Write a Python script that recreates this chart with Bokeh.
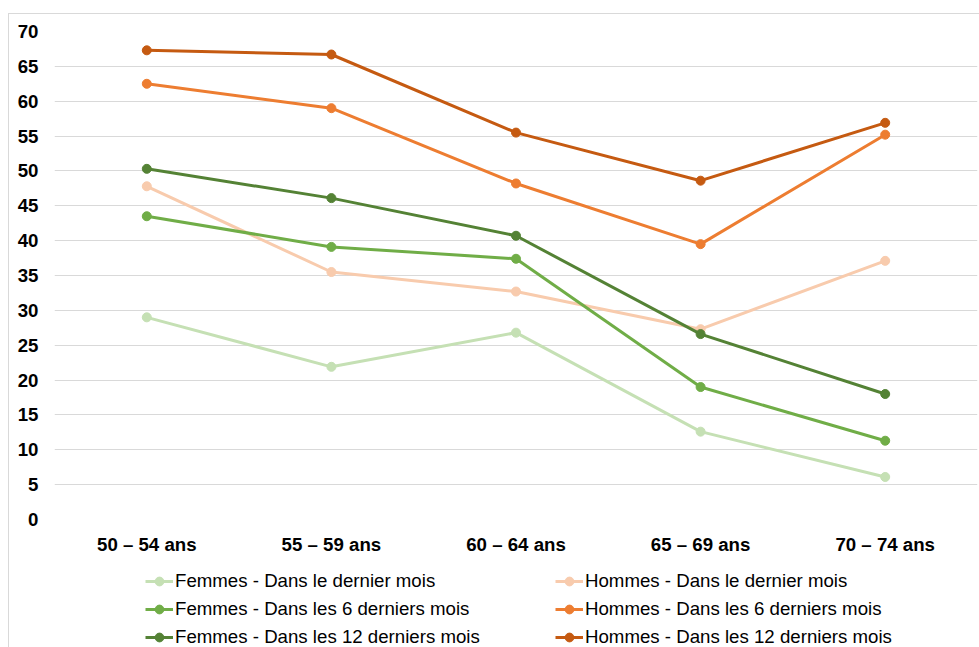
from bokeh.plotting import figure
from bokeh.models import Range1d, Legend, LegendItem
from bokeh.layouts import column
from bokeh.embed import file_html
from bokeh.resources import INLINE

categories = ["50 – 54 ans", "55 – 59 ans", "60 – 64 ans", "65 – 69 ans", "70 – 74 ans"]

femmes_1m = [29.0, 21.9, 26.8, 12.6, 6.1]
hommes_1m = [47.8, 35.5, 32.7, 27.3, 37.1]
femmes_6m = [43.5, 39.1, 37.4, 19.0, 11.3]
hommes_6m = [62.5, 59.0, 48.2, 39.5, 55.2]
femmes_12m = [50.3, 46.1, 40.7, 26.6, 18.0]
hommes_12m = [67.3, 66.7, 55.5, 48.6, 56.9]

series = [
    ("Femmes - Dans le dernier mois", femmes_1m, "#c5e0b4"),
    ("Hommes - Dans le dernier mois", hommes_1m, "#f8cbad"),
    ("Femmes - Dans les 6 derniers mois", femmes_6m, "#70ad47"),
    ("Hommes - Dans les 6 derniers mois", hommes_6m, "#ed7d31"),
    ("Femmes - Dans les 12 derniers mois", femmes_12m, "#548235"),
    ("Hommes - Dans les 12 derniers mois", hommes_12m, "#c55a11"),
]

FONT = "Liberation Sans"

# main chart
p = figure(
    x_range=categories,
    y_range=Range1d(0, 70),
    width=970,
    height=546,
    output_backend="svg",
    toolbar_location=None,
    min_border_left=45,
    min_border_right=2,
    min_border_top=17,
    min_border_bottom=41,
)
p.x_range.range_padding = 0
p.outline_line_color = None
p.xgrid.grid_line_color = None
p.ygrid.grid_line_color = "#d9d9d9"
p.ygrid.grid_line_width = 1
p.yaxis.ticker = list(range(0, 71, 5))

for ax in (p.xaxis[0], p.yaxis[0]):
    ax.axis_line_color = None
    ax.major_tick_line_color = None
    ax.minor_tick_line_color = None
    ax.major_tick_in = 0
    ax.major_tick_out = 0
    ax.major_label_text_font = FONT
    ax.major_label_text_font_size = "14pt"
    ax.major_label_text_font_style = "bold"
    ax.major_label_text_color = "#000000"
p.yaxis.major_label_standoff = 16
p.xaxis.major_label_standoff = 14

for name, vals, color in series:
    p.line(categories, vals, line_color=color, line_width=3)
    p.scatter(categories, vals, marker="circle", size=9, fill_color=color, line_color=color)

# legend strip (series drawn out of view, only their legend entries show)
q = figure(
    x_range=categories,
    y_range=Range1d(1000, 1001),
    width=970,
    height=87,
    output_backend="svg",
    toolbar_location=None,
    min_border=0,
    min_border_left=0,
    min_border_right=0,
    min_border_top=0,
    min_border_bottom=0,
)
q.axis.visible = False
q.grid.visible = False
q.outline_line_color = None

items = []
for name, vals, color in series:
    l = q.line(categories, vals, line_color=color, line_width=3)
    s = q.scatter(categories, vals, marker="circle", size=9, fill_color=color, line_color=color)
    items.append(LegendItem(label=name, renderers=[l, s]))

for its, xloc in (([items[0], items[2], items[4]], 91), ([items[1], items[3], items[5]], 501)):
    lg = Legend(
        items=its,
        location=(xloc, -1),
        orientation="vertical",
        padding=0,
        margin=0,
        spacing=6,
        glyph_width=28,
        glyph_height=22,
        label_height=22,
        label_standoff=2,
        label_text_font=FONT,
        label_text_font_size="14pt",
        label_text_color="#000000",
        background_fill_alpha=0,
        border_line_color=None,
    )
    q.add_layout(lg, "center")

layout = column(p, q, spacing=0)
layout.styles = {
    "margin-left": "8px",
    "margin-top": "13px",
    "border-left": "1px solid #d9d9d9",
    "border-top": "1px solid #d9d9d9",
}

open("out.html", "w").write(file_html(layout, INLINE))
